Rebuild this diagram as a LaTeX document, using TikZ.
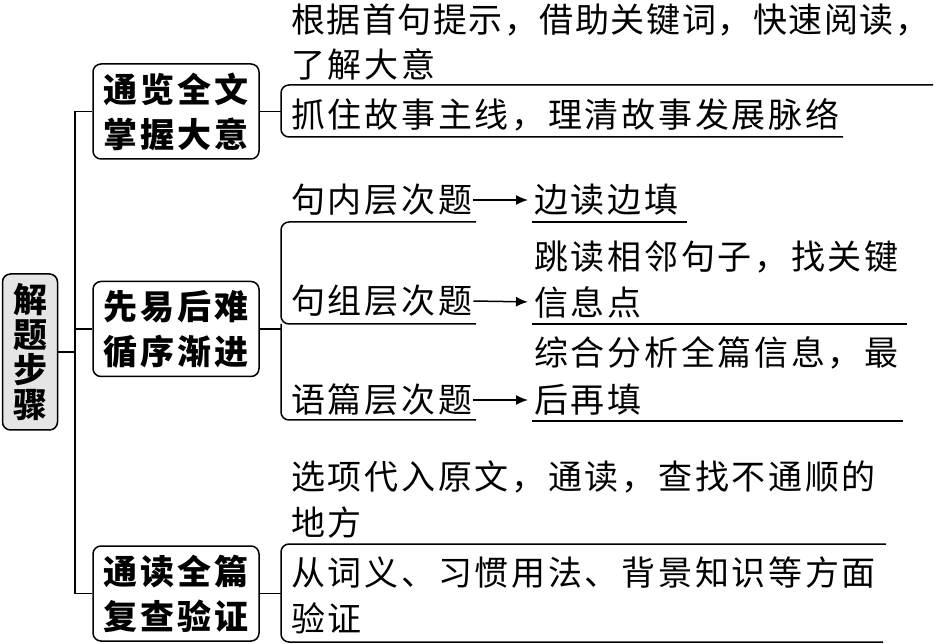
\documentclass[tikz,border=0pt]{standalone}
\usepackage{fontspec}
\setmainfont{Noto Sans CJK SC}[LetterSpace=8]
\newfontfamily\tightfont{Noto Sans CJK SC}[LetterSpace=4.5]
\usetikzlibrary{arrows.meta}
\tikzset{
  txt/.style={anchor=west, inner sep=0pt, font=\fontsize{34}{46}\selectfont},
  boxnode/.style={draw, line width=1.5pt, rounded corners=8pt, align=center, inner sep=0pt,
    minimum width=166pt, minimum height=95pt, font=\fontsize{34}{45}\selectfont\bfseries},
  rootnode/.style={draw, line width=1.5pt, rounded corners=8pt, align=center, inner sep=0pt,
    fill=black!10, minimum width=55pt, minimum height=156pt, font=\fontsize{34}{35}\selectfont\bfseries},
  ln/.style={line width=1.5pt},
  arr/.style={line width=1.5pt, -{Latex[length=12pt,width=10pt]}, shorten <=1pt, shorten >=6pt},
}
\begin{document}
\begin{tikzpicture}[x=1pt,y=-1pt]
\useasboundingbox (0,0) rectangle (938,644);

% root and boxes
\node[rootnode] (root) at (30,352) {解\\题\\步\\骤};
\node[boxnode] (b1) at (176,111.5) {通览全文\\掌握大意};
\node[boxnode] (b2) at (176,329) {先易后难\\循序渐进};
\node[boxnode] (b3) at (176,593.5) {通读全篇\\复查验证};

% trunk
\coordinate (tr1) at (75,111.5);
\coordinate (tr2) at (75,329);
\coordinate (trr) at (75,352);
\coordinate (tr3) at (75,593.5);
\draw[ln] (tr1) -- (tr3);
\draw[ln] (root.east) -- (trr);
\draw[ln] (tr1) -- (b1.west);
\draw[ln] (tr2) -- (b2.west);
\draw[ln] (tr3) -- (b3.west);

% group 1
\node[txt, font=\fontsize{34}{46}\selectfont\tightfont] (g1a) at (291,20) {根据首句提示，借助关键词，快速阅读，};
\node[txt] (g1b) at (291,64) {了解大意};
\node[txt] (g1c) at (291,115) {抓住故事主线，理清故事发展脉络};
\coordinate (j1) at (281,111.5);
\coordinate (u1a) at (933,85);
\coordinate (c1a) at (281,85);
\coordinate (c1b) at (281,137);
\coordinate (u1b) at (843,137);
\draw[ln] (b1.east) -- (j1);
\draw[ln, rounded corners=8pt] (u1a) -- (c1a) -- (c1b) -- (u1b);

% group 2
\node[txt] (q1) at (291,200) {句内层次题};
\node[txt] (q2) at (291,301) {句组层次题};
\node[txt] (q3) at (291,400) {语篇层次题};
\node[txt] (r1) at (534,200) {边读边填};
\node[txt] (r2a) at (534,257) {跳读相邻句子，找关键};
\node[txt] (r2b) at (534,302) {信息点};
\node[txt] (r3a) at (534,353) {综合分析全篇信息，最};
\node[txt] (r3b) at (534,400) {后再填};
\draw[arr] (q1.east) -- (r1.west);
\draw[arr] (q2.east) -- (r2b.west);
\draw[arr] (q3.east) -- (r3b.west);

\coordinate (j2) at (281,329);
\coordinate (u2a) at (476,222);
\coordinate (c2a) at (281,222);
\coordinate (c2b) at (281,324);
\coordinate (u2b) at (476,324);
\coordinate (c2c) at (281,420);
\coordinate (u2c) at (476,420);
\draw[ln] (b2.east) -- (j2);
\draw[ln, rounded corners=8pt] (u2a) -- (c2a) -- (c2b) -- (u2b);
\draw[ln, rounded corners=8pt] (c2b) -- (c2c) -- (u2c);
\coordinate (v1a) at (532,222); \coordinate (v1b) at (687,222);
\coordinate (v2a) at (532,324); \coordinate (v2b) at (907,324);
\coordinate (v3a) at (532,421); \coordinate (v3b) at (903,421);
\draw[ln] (v1a) -- (v1b);
\draw[ln] (v2a) -- (v2b);
\draw[ln] (v3a) -- (v3b);

% group 3
\node[txt] (g3a) at (291,477) {选项代入原文，通读，查找不通顺的};
\node[txt] (g3b) at (291,523) {地方};
\node[txt] (g3c) at (291,573) {从词义、习惯用法、背景知识等方面};
\node[txt] (g3d) at (291,618) {验证};
\coordinate (j3) at (281,593.5);
\coordinate (u3a) at (886,544);
\coordinate (c3a) at (281,544);
\coordinate (c3b) at (281,642);
\coordinate (u3b) at (883,642);
\draw[ln] (b3.east) -- (j3);
\draw[ln, rounded corners=8pt] (u3a) -- (c3a) -- (c3b) -- (u3b);
\end{tikzpicture}
\end{document}
